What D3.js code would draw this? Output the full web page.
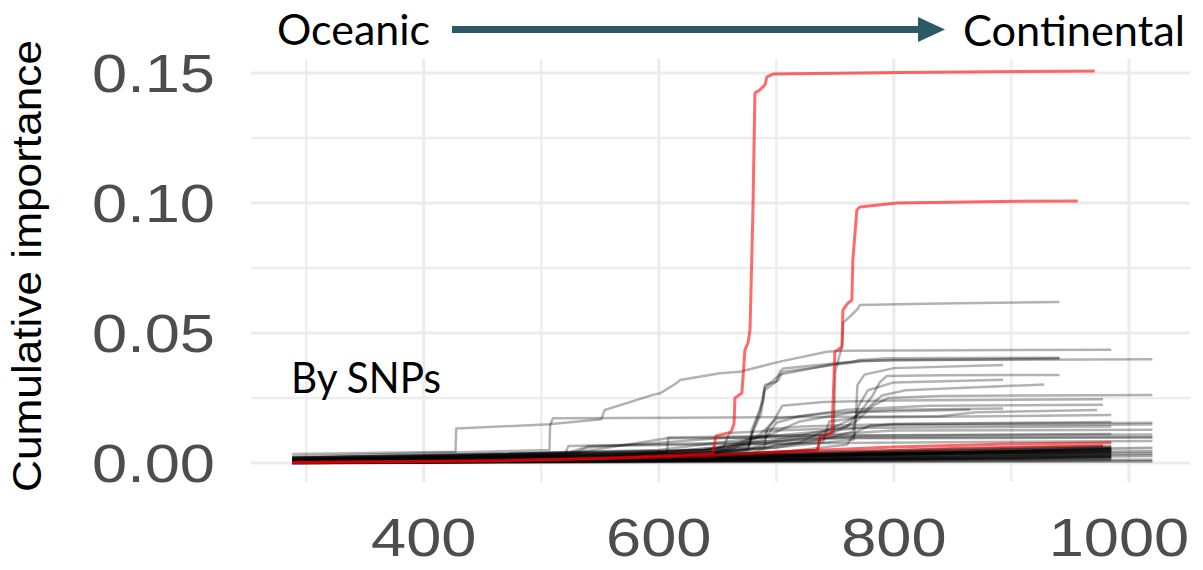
<!DOCTYPE html>
<html>
<head>
<meta charset="utf-8">
<script src="https://cdn.jsdelivr.net/npm/d3@7"></script>
<style>
  html, body { margin: 0; padding: 0; background: #ffffff; }
  svg { display: block; }
</style>
</head>
<body>
<svg id="chart" width="1203" height="570"></svg>
<script>
// Axis ticks
const xMajorTicks = [400, 600, 800, 1000];
const xMinorTicks = [300, 500, 700, 900];
const yMajorTicks = [0, 0.05, 0.10, 0.15];
const yMinorTicks = [0.025, 0.075, 0.125];
const yTickLabels = ["0.00", "0.05", "0.10", "0.15"];
const xTickLabels = ["400", "600", "800", "1000"];

// Panel extent in data units (data range plus ggplot-style padding)
const xDomain = [253, 1052];
const yDomain = [-0.0073, 0.1554];

// Highlighted SNPs with a large step (cumulative importance along the gradient)
const redTallSnps = [
  [[288,0.0002],[380,0.0006],[465,0.0010],[550,0.0017],[618,0.0031],[646,0.0038],[647,0.0062],
   [648.6,0.0104],[661.4,0.0119],[664,0.0150],[664.8,0.0250],[670.7,0.0269],[673.3,0.0435],
   [675.9,0.0462],[677.6,0.0512],[680.1,0.0973],[681.8,0.1423],[686,0.1435],[690.3,0.1454],
   [692,0.1485],[697.1,0.1496],[805,0.1502],[971,0.1508]],
  [[288,0.0002],[465,0.0008],[635,0.0027],[735.4,0.0050],[737,0.0100],[747.3,0.0115],
   [749,0.0319],[749.8,0.0427],[755.8,0.0446],[756.6,0.0588],[760.9,0.0615],[764.3,0.0627],
   [765.1,0.0781],[768.5,0.0973],[771.1,0.0985],[802.6,0.1000],[890,0.1006],[956.5,0.1008]]
];

// Highlighted SNPs that stay low
const redLowSnps = [
  [[288,0.0003],[500,0.0012],[650,0.0030],[700,0.0042],[800,0.0062],[900,0.0073],[985,0.0078]],
  [[288,0.0005],[550,0.0015],[720,0.0035],[850,0.0056],[978,0.0066]]
];

// SNPs that climb to visible levels
const risingSnps = [
  [[288,0.0035],[427,0.0043],[427.6,0.0133],[507,0.0149],[551,0.0168],[554,0.0204],[595,0.0262],
   [601,0.0268],[615,0.0307],[618,0.0319],[652,0.0345],[669,0.0351],[703,0.0390],[743,0.0428],
   [754,0.0432],[985,0.0436]],
  [[288,0.0025],[507,0.0050],[507.5,0.0146],[510,0.0172],[618,0.0174],[839,0.0180],[870,0.0195],[973,0.0204]],
  [[288,0.0010],[600,0.0020],[735,0.0050],[737,0.0100],[749,0.0120],[750,0.0350],[756,0.0450],
   [757,0.0540],[762.6,0.0563],[769.6,0.0595],[771,0.0608],[839,0.0614],[941,0.0619]],
  [[288,0.0010],[550,0.0020],[640,0.0040],[676,0.0060],[678,0.0088],[679,0.0127],[686,0.0204],
   [689,0.0242],[690.3,0.0300],[700,0.0313],[703,0.0351],[706,0.0364],[748,0.0383],[765,0.0390],
   [771,0.0396],[794,0.0403],[941,0.0405]],
  [[288,0.0008],[600,0.0030],[676,0.0050],[679,0.0110],[686,0.0200],[690,0.0290],[703,0.0340],
   [748,0.0380],[771,0.0393],[941,0.0402]],
  [[288,0.0010],[560,0.0020],[640,0.0040],[677,0.0070],[680,0.0120],[687,0.0190],[690,0.0280],
   [702,0.0320],[705,0.0350],[750,0.0378],[772,0.0390],[800,0.0396],[1020,0.0399]],
  [[288,0.0010],[600,0.0030],[700,0.0060],[766,0.0090],[768,0.0200],[769,0.0300],[775,0.0340],
   [800,0.0365],[893,0.0377]],
  [[288,0.0020],[640,0.0050],[700,0.0090],[760,0.0140],[772,0.0200],[782,0.0260],[788,0.0310],
   [794,0.0335],[840,0.0338],[941,0.0339]],
  [[288,0.0010],[620,0.0030],[700,0.0060],[748,0.0100],[765,0.0120],[770,0.0220],[778,0.0280],
   [800,0.0310],[893,0.0320]],
  [[288,0.0015],[650,0.0040],[720,0.0080],[760,0.0160],[775,0.0200],[790,0.0260],[810,0.0280],[928,0.0302]],
  [[288,0.0010],[600,0.0040],[700,0.0080],[750,0.0120],[768,0.0160],[782,0.0220],[795,0.0250],
   [840,0.0258],[1020,0.0262]],
  [[288,0.0020],[640,0.0050],[690,0.0090],[700,0.0155],[720,0.0180],[760,0.0205],[830,0.0220],[978,0.0224]],
  [[288,0.0012],[650,0.0040],[686,0.0110],[700,0.0170],[740,0.0190],[800,0.0205],[893,0.0210]],
  [[288,0.0020],[600,0.0050],[690,0.0100],[720,0.0160],[765,0.0195],[865,0.0205]],
  [[288,0.0010],[560,0.0030],[650,0.0060],[686,0.0100],[760,0.0130],[800,0.0150],[1020,0.0155]],
  [[288,0.0012],[523,0.0030],[540,0.0060],[607,0.0080],[650,0.0095],[746,0.0110],[800,0.0125],[1020,0.0128]],
  [[288,0.0020],[600,0.0040],[680,0.0060],[700,0.0085],[769,0.0105],[1020,0.0110]],
  [[288,0.0010],[530,0.0040],[607,0.0095],[700,0.0097],[1020,0.0100]],
  [[288,0.0015],[523,0.0040],[540,0.0065],[700,0.0075],[900,0.0082],[1020,0.0085]],
  [[288,0.0015],[520,0.0030],[523,0.0065],[600,0.0072],[680,0.0080],[760,0.0095],[1020,0.0098]],
  [[288,0.0010],[560,0.0025],[607,0.0040],[608,0.0098],[700,0.0105],[985,0.0112]],
  [[288,0.0020],[620,0.0040],[655,0.0060],[660,0.0115],[700,0.0125],[760,0.0135],[985,0.0140]],
  [[288,0.0010],[640,0.0030],[690,0.0060],[692,0.0130],[720,0.0140],[800,0.0150],[985,0.0158]],
  [[288,0.0012],[680,0.0040],[700,0.0070],[740,0.0085],[745,0.0160],[770,0.0175],[985,0.0185]],
  [[288,0.0010],[700,0.0040],[760,0.0070],[768,0.0120],[780,0.0145],[1020,0.0148]],
  [[288,0.0015],[660,0.0050],[690,0.0110],[700,0.0180],[705,0.0220],[740,0.0235],[800,0.0240],[978,0.0245]]
];

// SNPs that stay close to zero
const baselineSnps = [
  [[288,0.0005],[500,0.0012],[700,0.0025],[985,0.0048]],
  [[288,0.0003],[450,0.0008],[650,0.0020],[800,0.0035],[985,0.0052]],
  [[288,0.0008],[550,0.0015],[720,0.0030],[985,0.0058]],
  [[288,0.0002],[600,0.0010],[800,0.0025],[985,0.0040]],
  [[288,0.0004],[520,0.0011],[760,0.0030],[985,0.0045]],
  [[288,0.0001],[400,0.0004],[700,0.0015],[985,0.0030]],
  [[288,0.0006],[480,0.0012],[690,0.0028],[900,0.0045],[985,0.0055]],
  [[288,0.0000],[500,0.0005],[800,0.0015],[985,0.0022]],
  [[288,0.0002],[600,0.0008],[850,0.0020],[985,0.0028]],
  [[288,0.0003],[550,0.0009],[760,0.0022],[985,0.0035]],
  [[288,0.0001],[700,0.0010],[985,0.0018]],
  [[288,0.0000],[650,0.0006],[985,0.0012]],
  [[288,0.0009],[540,0.0020],[700,0.0040],[985,0.0065]],
  [[288,0.0004],[470,0.0010],[740,0.0030],[985,0.0050]],
  [[288,0.0002],[500,0.0006],[900,0.0018],[985,0.0025]],
  [[288,0.0007],[520,0.0016],[740,0.0036],[985,0.0060]],
  [[288,0.0005],[600,0.0015],[820,0.0034],[985,0.0043]],
  [[288,0.0003],[560,0.0012],[780,0.0028],[985,0.0038]],
  [[288,0.0006],[500,0.0014],[760,0.0033],[985,0.0053]],
  [[288,0.0001],[620,0.0009],[900,0.0020],[985,0.0024]],
  [[288,0.0003],[600,0.0010],[800,0.0020],[1020,0.0028]],
  [[288,0.0002],[650,0.0008],[1020,0.0012]],
  [[288,0.0006],[560,0.0016],[760,0.0040],[1020,0.0058]],
  [[288,0.0005],[620,0.0018],[780,0.0035],[1020,0.0045]],
  [[288,0.0001],[560,0.0004],[1020,0.0006]],
  [[288,0.0004],[600,0.0014],[850,0.0030],[1020,0.0036]]
];

const svg = d3.select("#chart");

const x = d3.scaleLinear().domain(xDomain).range([251, 1190]);
const y = d3.scaleLinear().domain(yDomain).range([482, 59]);

// Grid
const grid = svg.append("g");
grid.selectAll(".vminor").data(xMinorTicks).join("line")
  .attr("x1", d => x(d)).attr("x2", d => x(d))
  .attr("y1", y.range()[1]).attr("y2", y.range()[0])
  .attr("stroke", "#ededed").attr("stroke-width", 2.4);
grid.selectAll(".hminor").data(yMinorTicks).join("line")
  .attr("y1", d => y(d)).attr("y2", d => y(d))
  .attr("x1", x.range()[0]).attr("x2", x.range()[1])
  .attr("stroke", "#ededed").attr("stroke-width", 2.4);
grid.selectAll(".vmajor").data(xMajorTicks).join("line")
  .attr("x1", d => x(d)).attr("x2", d => x(d))
  .attr("y1", y.range()[1]).attr("y2", y.range()[0])
  .attr("stroke", "#ebebeb").attr("stroke-width", 3);
grid.selectAll(".hmajor").data(yMajorTicks).join("line")
  .attr("y1", d => y(d)).attr("y2", d => y(d))
  .attr("x1", x.range()[0]).attr("x2", x.range()[1])
  .attr("stroke", "#ebebeb").attr("stroke-width", 3);

// Lines
const line = d3.line().x(d => x(d[0])).y(d => y(d[1]));
const lines = svg.append("g").attr("fill", "none")
  .attr("stroke-linejoin", "round").attr("stroke-linecap", "butt");

lines.selectAll(".redLow").data(redLowSnps).join("path")
  .attr("d", line).attr("stroke", "#ff0000").attr("stroke-opacity", 0.6).attr("stroke-width", 3);
lines.selectAll(".base").data(baselineSnps).join("path")
  .attr("d", line).attr("stroke", "#000").attr("stroke-opacity", 0.35).attr("stroke-width", 2.8);
lines.selectAll(".rise").data(risingSnps).join("path")
  .attr("d", line).attr("stroke", "#000").attr("stroke-opacity", 0.3).attr("stroke-width", 2.5);
lines.selectAll(".redTall").data(redTallSnps).join("path")
  .attr("d", line).attr("stroke", "#ff0000").attr("stroke-opacity", 0.58).attr("stroke-width", 3);

// Axis tick labels
const tickFont = "'Liberation Sans', Arial, Helvetica, sans-serif";
svg.append("g").selectAll("text").data(yMajorTicks).join("text")
  .attr("transform", d => `translate(215,${y(d) + 19}) scale(1.17,1)`)
  .attr("text-anchor", "end")
  .attr("font-family", tickFont).attr("font-size", 54).attr("fill", "#4d4d4d")
  .text((d, i) => yTickLabels[i]);
svg.append("g").selectAll("text").data(xMajorTicks).join("text")
  .attr("transform", d => `translate(${x(d) + (d === 1000 ? -10 : 0)},556) scale(1.17,1)`)
  .attr("text-anchor", "middle")
  .attr("font-family", tickFont).attr("font-size", 54).attr("fill", "#4d4d4d")
  .text((d, i) => xTickLabels[i]);

// Axis title
svg.append("text")
  .attr("transform", "translate(41,266) rotate(-90)")
  .attr("text-anchor", "middle")
  .attr("font-family", tickFont).attr("font-size", 41).attr("fill", "#000")
  .attr("textLength", 452).attr("lengthAdjust", "spacingAndGlyphs")
  .text("Cumulative importance");

// Gradient annotation
const noteFont = "Lato, 'Open Sans', sans-serif";
svg.append("text").attr("x", 277).attr("y", 45)
  .attr("font-family", noteFont).attr("font-size", 42).attr("fill", "#000")
  .attr("textLength", 153).attr("lengthAdjust", "spacingAndGlyphs")
  .text("Oceanic");
svg.append("text").attr("x", 963).attr("y", 46)
  .attr("font-family", noteFont).attr("font-size", 42).attr("fill", "#000")
  .attr("textLength", 222).attr("lengthAdjust", "spacingAndGlyphs")
  .text("Continental");
svg.append("text").attr("x", 291).attr("y", 393)
  .attr("font-family", noteFont).attr("font-size", 42).attr("fill", "#000")
  .attr("textLength", 150).attr("lengthAdjust", "spacingAndGlyphs")
  .text("By SNPs");

const arrowColor = "#2b5a65";
svg.append("line").attr("x1", 452).attr("x2", 922).attr("y1", 29.5).attr("y2", 29.5)
  .attr("stroke", arrowColor).attr("stroke-width", 7);
svg.append("path").attr("d", "M918,17 L945,29.5 L918,42 Z").attr("fill", arrowColor);
</script>
</body>
</html>
